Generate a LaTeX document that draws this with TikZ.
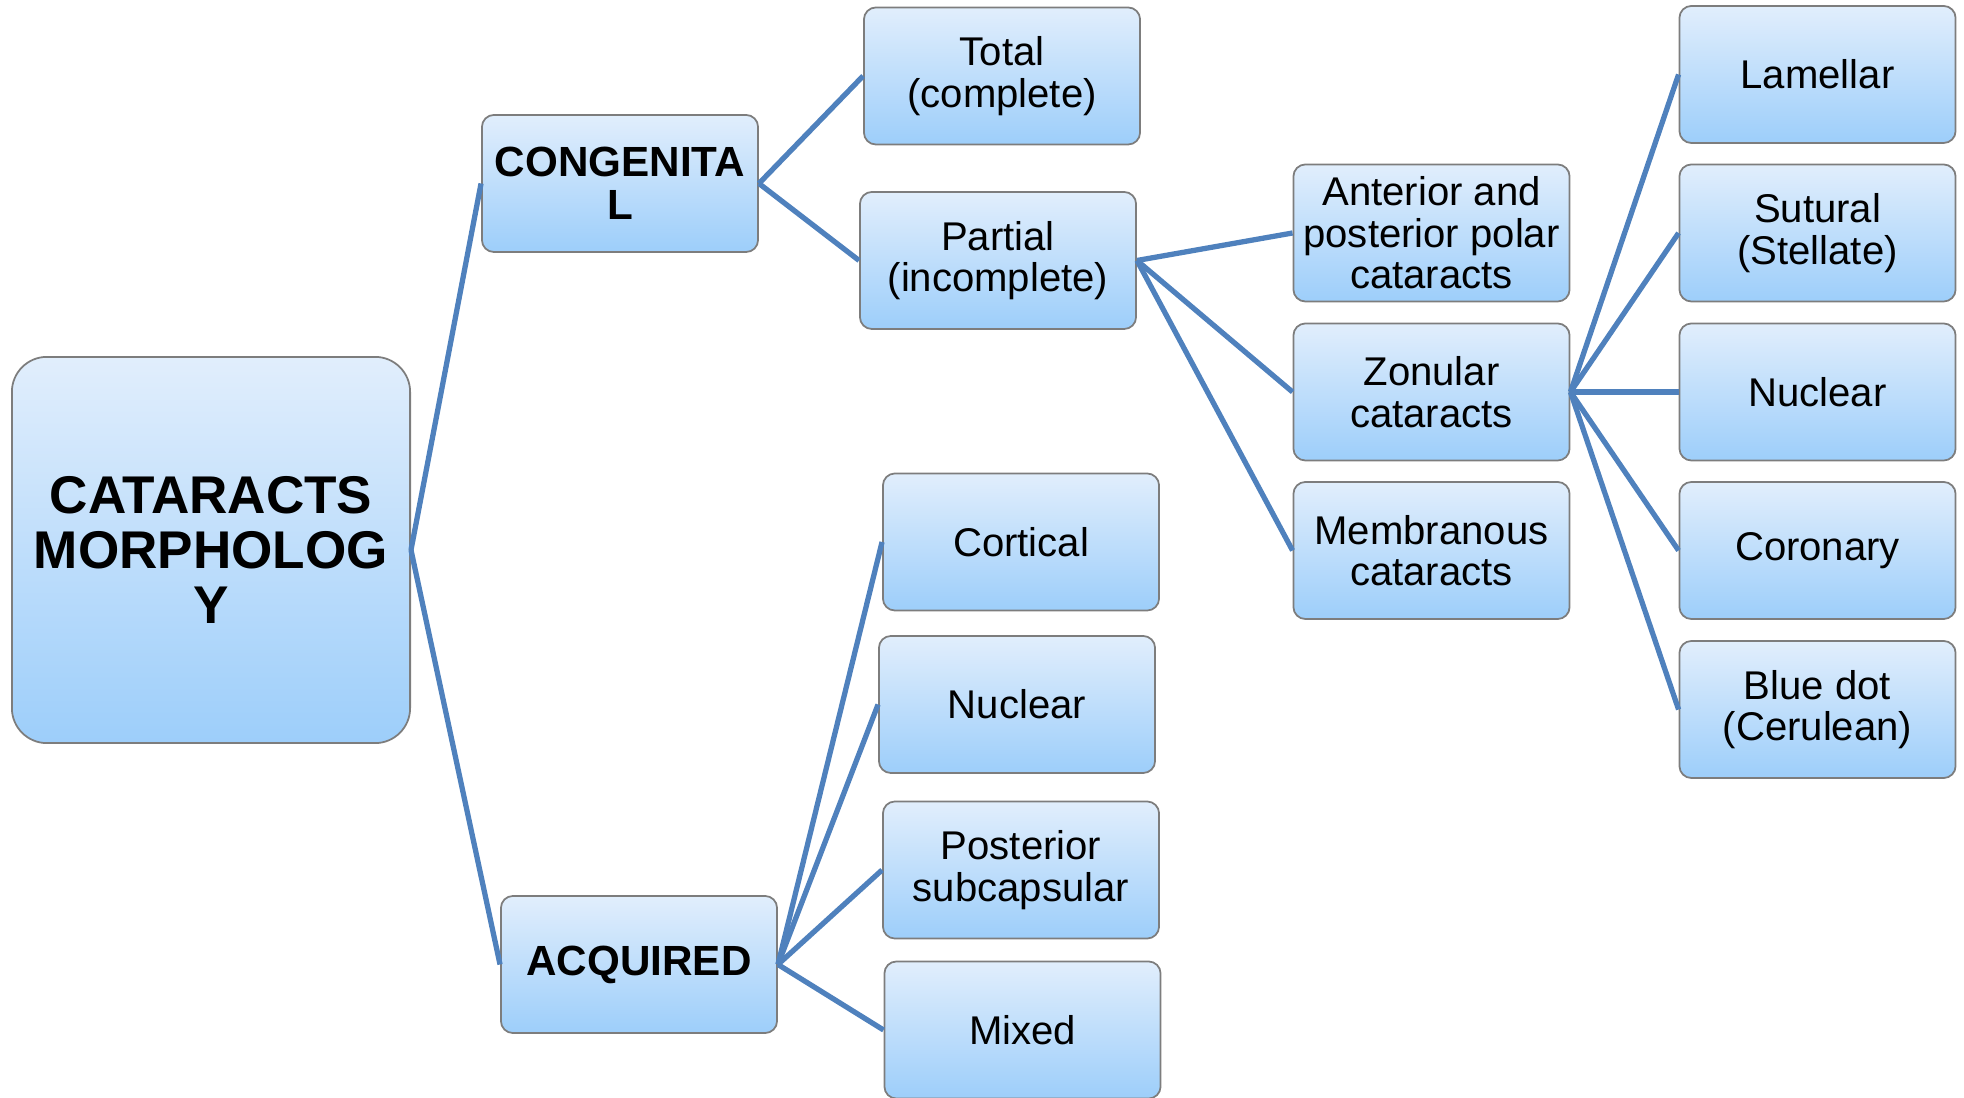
\documentclass[tikz,border=0pt]{standalone}
\usepackage{fontspec}
\setmainfont{Liberation Sans}
\definecolor{boxtop}{RGB}{225,238,252}
\definecolor{boxbot}{RGB}{157,206,250}
\definecolor{boxline}{RGB}{125,125,125}
\definecolor{linkblue}{RGB}{79,129,189}
\begin{document}
\begin{tikzpicture}[x=0.01cm,y=-0.01cm,box/.style={shape=rectangle,rounded corners=0.12cm,draw=boxline,line width=0.5pt,top color=boxtop,bottom color=boxbot,minimum width=2.76cm,minimum height=1.37cm,inner sep=0pt,align=center,font=\fontsize{11.4}{11.8}\selectfont},boxB/.style={box,font=\fontsize{12}{12.2}\selectfont\bfseries},rootbox/.style={box,rounded corners=0.35cm,minimum width=3.98cm,minimum height=3.86cm,font=\fontsize{15.1}{15.6}\selectfont\bfseries},link/.style={draw=linkblue,line width=1.5pt}]
\def\xa{1002};
\def\xb{1431.5};
\def\xc{1817.5};

\useasboundingbox (0,0) rectangle (1964,1098);

\node[rootbox] (R) at (211,550) {CATARACTS\\MORPHOLOG\\Y};

\node[boxB] (C) at (620,183.5) {CONGENITA\\L};
\node[boxB] (Q) at (639,964.5) {ACQUIRED};
\draw[link] (R.east) -- (C.west);
\draw[link] (R.east) -- (Q.west);

%CONGENITAL
\node[box] (T) at (\xa,76) {Total\\(complete)};
\node[box] (P) at (\xa-4,260.5) {Partial\\(incomplete)};
\draw[link] (C.east) -- (T.west);
\draw[link] (C.east) -- (P.west);

\node[box] (AP) at (\xb,233) {Anterior and\\posterior polar\\cataracts};
\node[box] (Z) at (\xb,392) {Zonular\\cataracts};
\node[box] (M) at (\xb,550.5) {Membranous\\cataracts};
\draw[link] (P.east) -- (AP.west);
\draw[link] (P.east) -- (Z.west);
\draw[link] (P.east) -- (M.west);

%ZONULAR
\node[box] (L) at (\xc,74.5) {Lamellar};
\node[box] (S) at (\xc,233) {Sutural\\(Stellate)};
\node[box] (N2) at (\xc,392) {Nuclear};
\node[box] (Co) at (\xc,550.5) {Coronary};
\node[box] (B) at (\xc,709.5) {Blue dot\\(Cerulean)};
\draw[link] (Z.east) -- (L.west);
\draw[link] (Z.east) -- (S.west);
\draw[link] (Z.east) -- (N2.west);
\draw[link] (Z.east) -- (Co.west);
\draw[link] (Z.east) -- (B.west);

%ACQUIRED
\node[box] (Ct) at (\xa+19,542) {Cortical};
\node[box] (N1) at (\xa+15,704.5) {Nuclear};
\node[box] (PS) at (\xa+19,870) {Posterior\\subcapsular};
\node[box] (Mx) at (\xa+20.5,1030) {Mixed};
\draw[link] (Q.east) -- (Ct.west);
\draw[link] (Q.east) -- (N1.west);
\draw[link] (Q.east) -- (PS.west);
\draw[link] (Q.east) -- (Mx.west);
\end{tikzpicture}
\end{document}
